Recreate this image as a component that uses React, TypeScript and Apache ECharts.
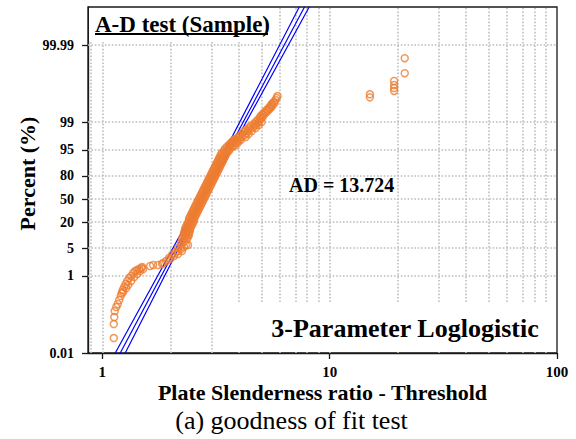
import React, { useEffect, useRef } from 'react';
import * as echarts from 'echarts';

const FONT = '"Liberation Serif", "Times New Roman", Times, serif';

// ---- Plotted sample (plate slenderness ratio - threshold, cumulative percent) ----
// lower tail and shelf
const tailX = [
  1.123, 1.123, 1.129, 1.134, 1.152, 1.169, 1.187, 1.205, 1.217, 1.23,
  1.248, 1.267, 1.287, 1.313, 1.34, 1.367, 1.395, 1.423, 1.452, 1.482,
  1.497, 1.623, 1.673, 1.832, 1.85, 1.907, 1.966, 2.026, 2.088, 2.152,
  2.218, 2.287, 2.333, 2.287,
  1.236, 1.274, 1.3, 1.34, 1.381, 1.423, 1.467, 1.512,
  1.759, 1.986, 2.067, 2.152, 2.241, 2.152, 2.218, 2.218, 2.381,
];
const tailPercent = [
  0.0245, 0.0566, 0.086, 0.123, 0.156, 0.187, 0.237, 0.301, 0.36, 0.431,
  0.515, 0.616, 0.736, 0.879, 0.99, 1.182, 1.331, 1.412, 1.497, 1.588,
  1.684, 1.786, 1.894, 2.008, 2.129, 2.394, 2.851, 3.392, 3.807, 4.268,
  4.785, 5.362, 6.002, 7.097,
  0.3825, 0.4854, 0.5803, 0.736, 0.9332, 1.1143, 1.3308, 1.497,
  1.894, 2.69, 3.202, 3.593, 4.268, 5.066, 5.675, 6.717, 6.002,
];
// dense central band (three interleaved rows of points)
const bandLeftX = [
  2.241, 2.264, 2.287, 2.287, 2.31, 2.31, 2.333, 2.357, 2.381, 2.405,
  2.405, 2.429, 2.454, 2.479, 2.504, 2.529, 2.555, 2.581, 2.607, 2.633,
  2.66, 2.687, 2.714, 2.742, 2.77, 2.798, 2.826, 2.855, 2.884, 2.913,
  2.942, 2.972, 3.002, 3.033, 3.063, 3.095, 3.126, 3.158, 3.19, 3.222,
  3.255, 3.288, 3.321, 3.355, 3.423, 3.458, 3.528, 3.6, 3.673, 3.748, 3.824,
];
const bandRightX = [
  2.357, 2.381, 2.405, 2.405, 2.429, 2.429, 2.454, 2.479, 2.504, 2.529,
  2.529, 2.555, 2.581, 2.607, 2.633, 2.66, 2.687, 2.714, 2.742, 2.77,
  2.798, 2.826, 2.855, 2.884, 2.913, 2.942, 2.972, 3.002, 3.033, 3.063,
  3.095, 3.126, 3.158, 3.19, 3.222, 3.255, 3.288, 3.321, 3.355, 3.389,
  3.423, 3.458, 3.493, 3.528, 3.6, 3.636, 3.71, 3.786, 3.863, 3.942, 4.022,
];
const bandOddPercent = [
  8.375, 9.34, 10.404, 11.573, 12.854, 14.255, 15.78, 17.437, 19.227, 21.151,
  23.217, 25.413, 27.747, 30.211, 32.787, 35.48, 38.256, 41.121, 44.047, 47.013,
  50.0, 52.987, 55.953, 58.879, 61.744, 64.52, 67.213, 69.789, 72.253, 74.587,
  76.783, 78.849, 80.773, 82.563, 84.22, 85.745, 87.146, 88.427, 89.596, 90.66,
  91.625, 92.503, 93.283, 93.998, 94.634, 95.215, 95.732, 96.193, 96.607, 96.979, 97.31,
];
const bandMidX = [
  2.31, 2.333, 2.333, 2.357, 2.381, 2.381, 2.405, 2.429, 2.454, 2.479,
  2.479, 2.504, 2.529, 2.555, 2.581, 2.607, 2.633, 2.66, 2.687, 2.714,
  2.742, 2.77, 2.798, 2.826, 2.855, 2.884, 2.913, 2.942, 2.972, 3.002,
  3.033, 3.063, 3.095, 3.126, 3.158, 3.19, 3.222, 3.255, 3.288, 3.321,
  3.355, 3.389, 3.423, 3.493, 3.528, 3.6, 3.636, 3.71, 3.786, 3.863,
];
const bandEvenPercent = [
  8.85, 9.862, 10.975, 12.203, 13.539, 15.002, 16.592, 18.315, 20.173, 22.168,
  24.302, 26.567, 28.961, 31.486, 34.118, 36.86, 39.683, 42.581, 45.526, 48.505,
  51.495, 54.474, 57.419, 60.317, 63.14, 65.882, 68.514, 71.039, 73.433, 75.698,
  77.832, 79.827, 81.685, 83.408, 84.998, 86.461, 87.797, 89.025, 90.138, 91.15,
  92.07, 92.903, 93.651, 94.325, 94.932, 95.481, 95.967, 96.406, 96.798, 97.149,
];
// upper bend and top of the band
const upperX = [
  3.942, 4.104, 4.022, 4.23, 4.104, 4.316, 4.188, 4.36, 4.273, 4.494,
  4.404, 4.632, 4.494, 4.726, 4.632, 4.822, 4.726, 4.921, 4.822, 4.971,
  4.921, 5.072, 4.971, 5.123, 5.072, 5.228, 5.175, 5.334, 5.281, 5.443,
  5.388, 5.554, 5.498, 5.61, 5.554, 5.724, 5.667, 5.782, 5.841, 5.9,
  3.824, 3.942, 4.063, 4.273, 4.404, 4.539, 4.726, 4.871, 5.021,
];
const upperPercent = [
  97.462, 97.607, 97.742, 97.871, 97.992, 98.106, 98.214, 98.316, 98.412, 98.503,
  98.589, 98.669, 98.746, 98.818, 98.886, 98.95, 99.01, 99.067, 99.121, 99.171,
  99.219, 99.264, 99.306, 99.347, 99.384, 99.42, 99.453, 99.485, 99.515, 99.543,
  99.569, 99.594, 99.617, 99.64, 99.66, 99.68, 99.699, 99.732, 99.763, 99.789,
  95.967, 96.607, 97.149, 97.607, 97.992, 98.316, 98.589, 98.818, 99.01,
];
// isolated large values
const outlierX = [15.03, 15.03, 19.21, 19.21, 19.21, 19.21, 21.39, 21.39];
const outlierPercent = [99.772, 99.81, 99.844, 99.869, 99.891, 99.914, 99.946, 99.978];

// ---- Fitted 3-parameter loglogistic line and its confidence bounds ----
const fitX = [1.199, 7.77];
const fitPercent = [0.01, 99.999];
const lowerBoundX = [1.14, 2.687, 7.37];
const lowerBoundPercent = [0.01, 50, 99.999];
const upperBoundX = [1.261, 2.798, 8.15];
const upperBoundPercent = [0.01, 50, 99.999];

// ---- Axes ----
const xTicks = [1, 10, 100];
const xGrid = [0.9, 1, 2, 3, 4, 5, 6, 7, 8, 9, 10, 20, 30, 40, 50, 60, 70, 80, 90];
const yTicks = [0.01, 1, 5, 20, 50, 80, 95, 99, 99.99];
const yTickLabels = ['0.01', '1', '5', '20', '50', '80', '95', '99', '99.99'];
const yGrid = [1, 5, 20, 50, 80, 95, 99, 99.99];
const X_MIN = 0.865;
const X_MAX = 100;
const P_MIN = 0.01;
const Y_TOP_LOGIT = 11.484;

const lg = (v: number) => Math.log10(v);
const logit = (pct: number) => Math.log(pct / (100 - pct));
const toPoints = (xs: number[], ps: number[]) => xs.map((x, i) => [lg(x), logit(ps[i])]);

export default function App() {
  const ref = useRef<HTMLDivElement>(null);

  useEffect(() => {
    if (!ref.current) return;
    const chart = echarts.init(ref.current, null, { renderer: 'svg' });
    const axisColor = '#1a1a1a';
    const gridStyle = { type: [1.6, 1.8], color: '#bdbdbd', width: 1.6 };
    const blue = { color: '#0000ff', width: 1.2 };
    const txt = (extra: any) => ({
      fontFamily: FONT, fill: '#000', align: 'center', verticalAlign: 'middle',
      textAlign: 'center', textVerticalAlign: 'middle', ...extra,
    });

    const samplePoints = [
      ...toPoints(tailX, tailPercent),
      ...toPoints(bandLeftX, bandOddPercent),
      ...toPoints(bandRightX, bandOddPercent),
      ...toPoints(bandMidX, bandEvenPercent),
      ...toPoints(upperX, upperPercent),
      ...toPoints(outlierX, outlierPercent),
    ];

    const option: any = {
      animation: false,
      backgroundColor: '#ffffff',
      grid: {
        left: 88, top: 7, width: 469, height: 346,
        show: true, borderColor: axisColor, borderWidth: 1.3, backgroundColor: 'transparent',
      },
      xAxis: {
        type: 'value',
        min: lg(X_MIN),
        max: lg(X_MAX),
        splitLine: { show: false },
        axisLine: { show: true, onZero: false, lineStyle: { color: axisColor, width: 1.3 } },
        axisTick: { show: true, length: 6, customValues: xTicks.map(lg), lineStyle: { color: axisColor, width: 1.3 } },
        axisLabel: {
          customValues: xTicks.map(lg),
          formatter: (v: number) => String(Math.round(Math.pow(10, v))),
          fontFamily: FONT, fontWeight: 'bold', fontSize: 15, color: '#000', margin: 11,
        },
      },
      yAxis: {
        type: 'value',
        min: logit(P_MIN),
        max: Y_TOP_LOGIT,
        splitLine: { show: false },
        axisLine: { show: true, onZero: false, lineStyle: { color: axisColor, width: 1.3 } },
        axisTick: { show: true, length: 6, customValues: yTicks.map(logit), lineStyle: { color: axisColor, width: 1.3 } },
        axisLabel: {
          customValues: yTicks.map(logit),
          formatter: (v: number) => {
            let bi = 0;
            let bd = Infinity;
            yTicks.forEach((p, i) => {
              const d = Math.abs(logit(p) - v);
              if (d < bd) { bd = d; bi = i; }
            });
            return yTickLabels[bi];
          },
          fontFamily: FONT, fontWeight: 'bold', fontSize: 14, color: '#000', margin: 14,
        },
      },
      series: [
        {
          type: 'line',
          name: 'grid',
          data: [],
          silent: true,
          markLine: {
            z: 1,
            silent: true,
            symbol: ['none', 'none'],
            label: { show: false },
            lineStyle: gridStyle,
            animation: false,
            data: [
              ...xGrid.map((x) => ({ xAxis: lg(x) })),
              ...yGrid.map((p) => ({ yAxis: logit(p) })),
            ],
          },
        },
        {
          type: 'line', name: 'lower', z: 3, showSymbol: false, symbol: 'none', silent: true,
          data: toPoints(lowerBoundX, lowerBoundPercent), lineStyle: blue,
        },
        {
          type: 'line', name: 'fit', z: 3, showSymbol: false, symbol: 'none', silent: true,
          data: toPoints(fitX, fitPercent), lineStyle: blue,
        },
        {
          type: 'line', name: 'upper', z: 3, showSymbol: false, symbol: 'none', silent: true,
          data: toPoints(upperBoundX, upperBoundPercent), lineStyle: blue,
        },
        {
          type: 'scatter', name: 'sample', z: 4, silent: true,
          symbol: 'circle', symbolSize: 7,
          itemStyle: { color: 'rgba(0,0,0,0)', borderColor: '#ed7d31', borderWidth: 1.5 },
          data: samplePoints,
        },
      ],
      graphic: [
        { type: 'rect', z: 10, silent: true, shape: { x: 89, y: 8, width: 184, height: 34 }, style: { fill: '#fff' } },
        { type: 'rect', z: 10, silent: true, shape: { x: 228, y: 302, width: 327.5, height: 50 }, style: { fill: '#fff' } },
        { type: 'text', z: 11, x: 95, y: 24.5, style: txt({ text: 'A-D test (Sample)', fontSize: 23, fontWeight: 'bold', align: 'left', textAlign: 'left' }) },
        { type: 'line', z: 11, shape: { x1: 95, y1: 34, x2: 268, y2: 34 }, style: { stroke: '#000', lineWidth: 2 } },
        { type: 'text', z: 11, x: 289, y: 184.5, style: txt({ text: 'AD = 13.724', fontSize: 20, fontWeight: 'bold', align: 'left', textAlign: 'left' }) },
        { type: 'text', z: 11, x: 405, y: 328.5, style: txt({ text: '3-Parameter Loglogistic', fontSize: 26, fontWeight: 'bold' }) },
        { type: 'text', z: 11, x: 322.5, y: 392, style: txt({ text: 'Plate Slenderness ratio - Threshold', fontSize: 22, fontWeight: 'bold' }) },
        { type: 'text', z: 11, x: 27, y: 173.5, rotation: Math.PI / 2, style: txt({ text: 'Percent (%)', fontSize: 22, fontWeight: 'bold' }) },
        { type: 'text', z: 11, x: 291.5, y: 420.5, style: txt({ text: '(a) goodness of fit test', fontSize: 26, fontWeight: 'normal' }) },
      ],
    };

    chart.setOption(option);
    return () => chart.dispose();
  }, []);

  return <div ref={ref} style={{ position: 'absolute', left: 0, top: 0, width: 576, height: 439 }} />;
}
